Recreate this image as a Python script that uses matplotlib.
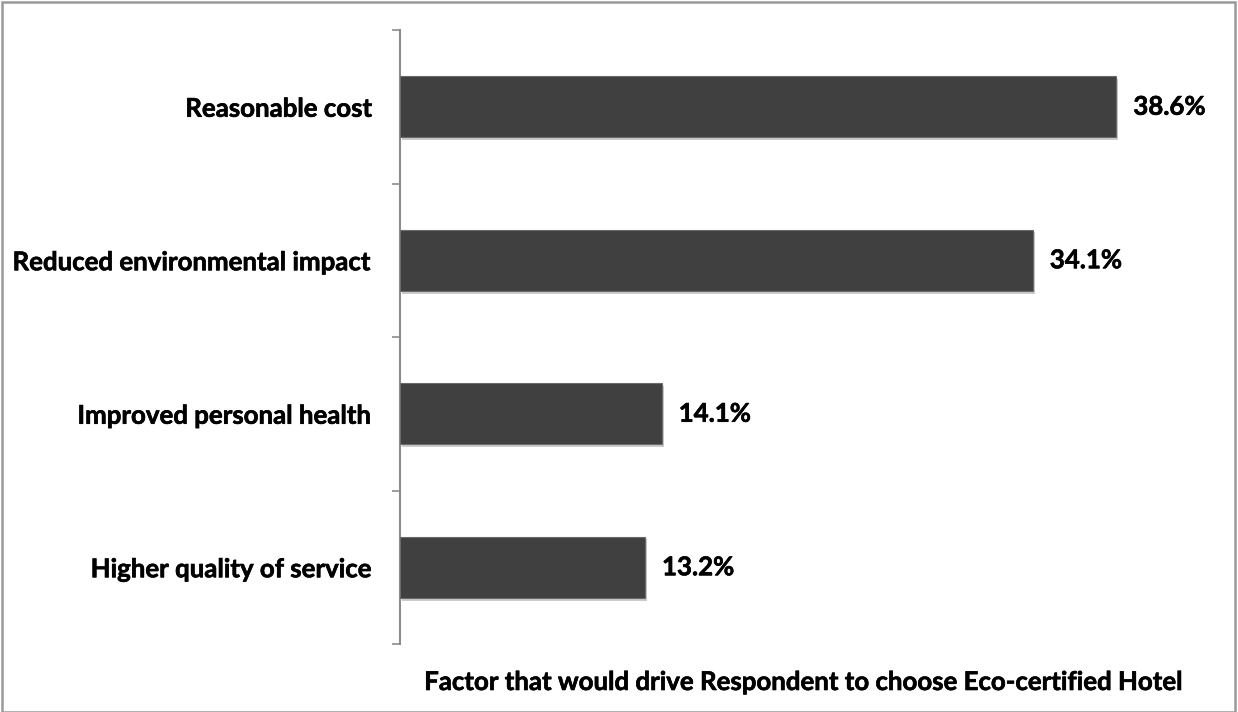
import matplotlib
matplotlib.use("Agg")
import matplotlib.pyplot as plt
import matplotlib.patheffects as pe
from matplotlib.patches import Rectangle

categories = [
    "Reasonable cost",
    "Reduced environmental impact",
    "Improved personal health",
    "Higher quality of service",
]
shares = [38.6, 34.1, 14.1, 13.2]
value_labels = ["38.6%", "34.1%", "14.1%", "13.2%"]
x_title = "Factor that would drive Respondent to choose Eco-certified Hotel"

W, H = 1238, 712
fig = plt.figure(figsize=(W / 100, H / 100), dpi=100)
fig.patch.set_facecolor("white")

# Slightly heavier glyphs via a thin same-colour outline
heavy = [pe.withStroke(linewidth=0.45, foreground="black")]
font = dict(family=["Lato", "DejaVu Sans"], fontweight="bold", color="black")
fs = 18.6

ax = fig.add_axes([400 / W, (H - 644) / H, (1235 - 400) / W, (644 - 30) / H])
ypos = list(range(len(categories)))
bars = ax.barh(ypos, shares, height=0.4, color="#404040", edgecolor="#6a6a6a",
               linewidth=0.8, zorder=3)
for b in bars:
    b.set_path_effects([pe.SimplePatchShadow(offset=(1.5, -2), shadow_rgbFace="#999999",
                                             alpha=0.5), pe.Normal()])

ax.set_xlim(0, 45)
ax.set_ylim(3.5, -0.5)

for y, v, lab in zip(ypos, shares, value_labels):
    ax.text(v + 0.92, y, lab, va="center", ha="left", fontsize=fs,
            path_effects=heavy, **font)

ax.set_yticks(ypos)
ax.set_yticklabels(categories, fontsize=fs, **font)
for t in ax.get_yticklabels():
    t.set_path_effects(heavy)
ax.tick_params(axis="y", which="major", length=0, pad=19.5)
ax.set_yticks([-0.5, 0.5, 1.5, 2.5, 3.5], minor=True)
ax.tick_params(axis="y", which="minor", length=6, width=1.2, color="#8c8c8c",
               direction="out")
ax.set_xticks([])

for s in ["top", "right", "bottom"]:
    ax.spines[s].set_visible(False)
ax.spines["left"].set_color("#8c8c8c")
ax.spines["left"].set_linewidth(1.5)

fig.text(805.5 / W, (H - 682) / H, x_title, ha="center", va="center",
         fontsize=fs, path_effects=heavy, **font)

fig.patches.append(Rectangle((2 / W, 0.5 / H), (1235 - 2) / W, (H - 2) / H,
                             transform=fig.transFigure, fill=False,
                             edgecolor="#9a9a9a", linewidth=1.8))

fig.savefig("out.png", dpi=100, facecolor="white")
